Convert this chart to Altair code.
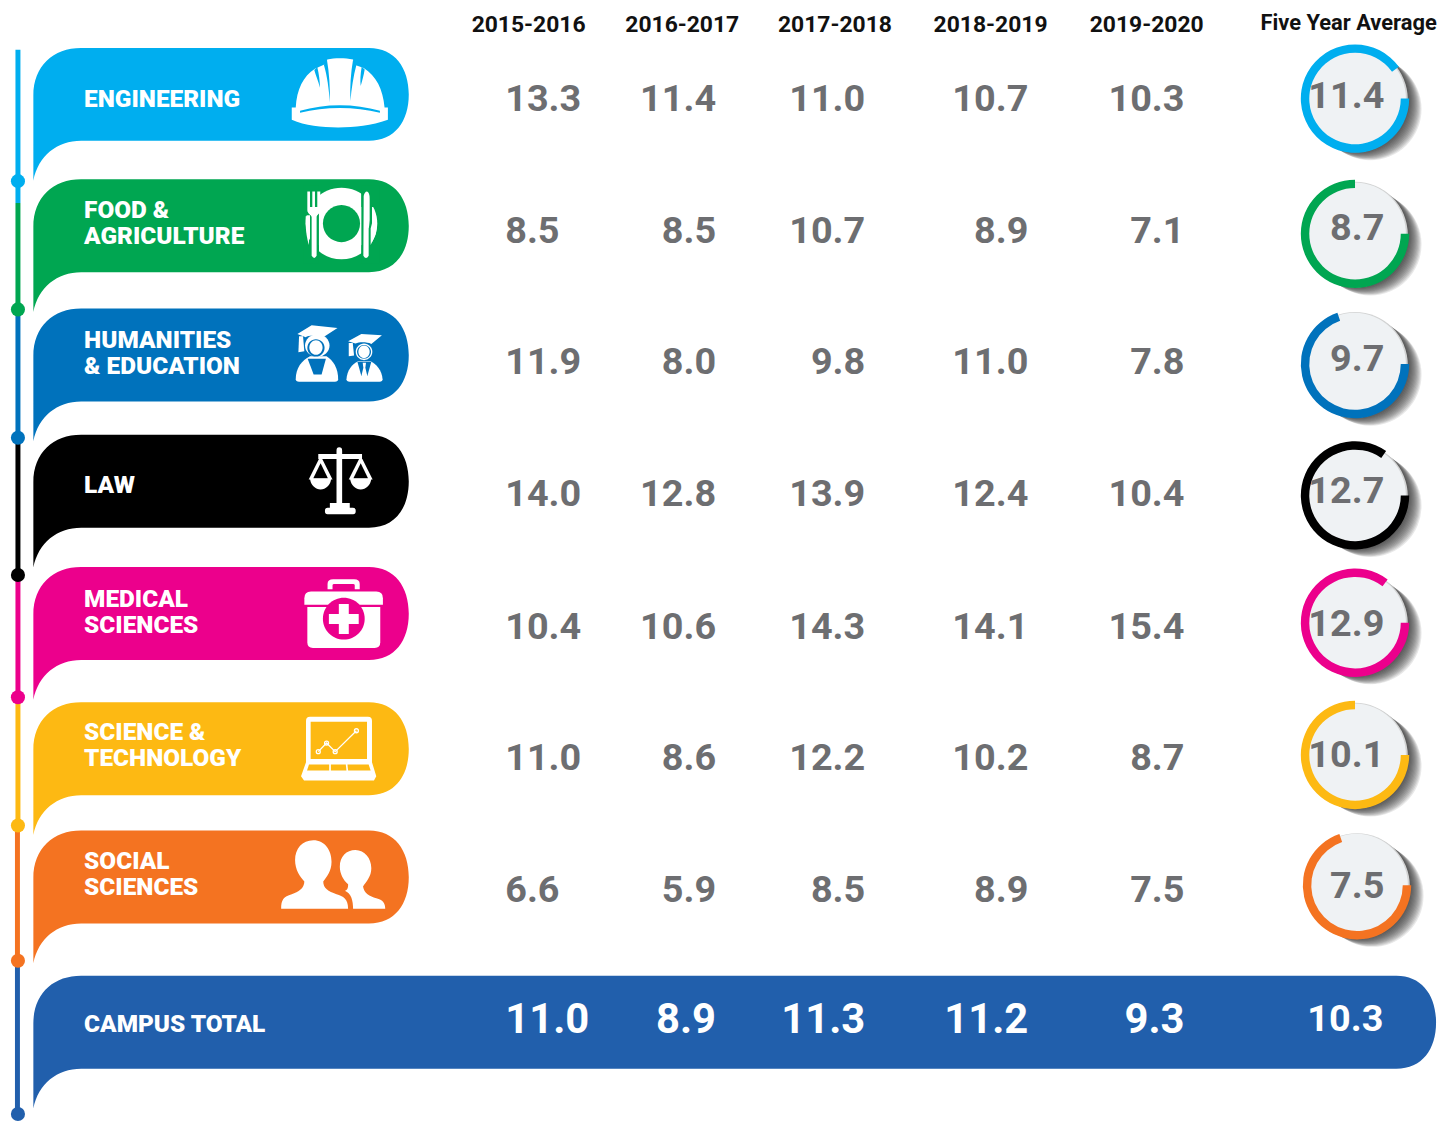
import math
import altair as alt
import pandas as pd

alt.data_transformers.disable_max_rows()

# ---------- data ----------
years = ["2015-2016", "2016-2017", "2017-2018", "2018-2019", "2019-2020"]
avg_header = "Five Year Average"
categories = ["Engineering", "Food", "Humanities", "Law", "Medical", "Science", "Social"]
labels = [["ENGINEERING"], ["FOOD &", "AGRICULTURE"], ["HUMANITIES", "& EDUCATION"], ["LAW"],
          ["MEDICAL", "SCIENCES"], ["SCIENCE &", "TECHNOLOGY"], ["SOCIAL", "SCIENCES"]]
series = {
    "Engineering": [13.3, 11.4, 11.0, 10.7, 10.3],
    "Food": [8.5, 8.5, 10.7, 8.9, 7.1],
    "Humanities": [11.9, 8.0, 9.8, 11.0, 7.8],
    "Law": [14.0, 12.8, 13.9, 12.4, 10.4],
    "Medical": [10.4, 10.6, 14.3, 14.1, 15.4],
    "Science": [11.0, 8.6, 12.2, 10.2, 8.7],
    "Social": [6.6, 5.9, 8.5, 8.9, 7.5],
}
averages = [11.4, 8.7, 9.7, 12.7, 12.9, 10.1, 7.5]
campus_label = "CAMPUS TOTAL"
campus = [11.0, 8.9, 11.3, 11.2, 9.3]
campus_avg = 10.3
arc_end_deg = [54, 0, -19, 35, 37, 0, -19]

# ---------- style / layout ----------
colors = ["#00aeef", "#00a651", "#0072bc", "#000000", "#ec008c", "#fdb913", "#f47321"]
campus_color = "#215fac"
GREY = "#6d6e71"
banner_top = [45, 177, 307, 434, 567, 703, 832]
campus_top = 978
baseline = [108, 241, 373, 506, 639, 771, 904]
label_base = [[104], [216, 242], [347, 373], [493], [607, 633], [741, 767], [871, 897]]
col_right = [None, 720, 870, 1034, 1191]
col1_left = 508
head_x = [531.5, 686, 839.5, 996, 1153]
disc_c = [(1362, 96), (1362, 232), (1362, 363), (1362, 495), (1362, 623), (1362, 756), (1364, 887)]
avg_base = [105, 238, 370, 503, 636, 768, 900]
dots = [179, 308, 437, 575, 698, 827, 963, 1117]
seg_y = [47, 201, 308, 437, 575, 698, 827, 963, 1117]
FONT = "Roboto"


def banner(w, h=93.5, tail=40):
    return (f"M0,48 C0,18 20,0 48,0 L{w-40},0 C{w-14},0 {w},20 {w},47 "
            f"C{w},74 {w-14},{h} {w-40},{h} L48,{h} C24,{h} 5,{h+15} 0,{h+tail} Z")


def circ(cx, cy, rx, ry=None):
    ry = rx if ry is None else ry
    return (f"M{cx-rx},{cy} A{rx},{ry} 0 1 1 {cx+rx},{cy} A{rx},{ry} 0 1 1 {cx-rx},{cy} Z")


def rect(x0, y0, x1, y1):
    return f"M{x0},{y0} L{x1},{y0} L{x1},{y1} L{x0},{y1} Z"


glyphs = []


def g(x, y, path, color, size=4 / 9):
    glyphs.append(dict(x=x, y=y, path=path, color=color, size=size))


# banners
for top, c in zip(banner_top, colors):
    g(33.5, top, banner(377.5), c, 4)
g(33.5, campus_top, banner(1410.5), campus_color, 4)

W = "#ffffff"
# helmet
a = (0, 30)
c = colors[0]
g(*a, "M892,225 C895,170 915,130 950,108 L985,92 L987,80 C1010,75 1040,75 1065,80 L1067,95 L1097,106 "
      "C1135,130 1155,170 1160,225 L1170,225 L1170,262 C1120,280 1070,285 1020,285 C970,285 920,280 880,262 L880,225 Z", W)
g(*a, "M948,112 L957,103 C962,125 965,145 965,165 C960,145 952,128 948,112 Z", c)
g(*a, "M977,97 L986,80 C993,120 996,165 995,210 C992,170 987,130 977,97 Z", c)
g(*a, "M1075,97 L1065,80 C1058,120 1055,165 1057,205 C1060,170 1066,130 1075,97 Z", c)
g(*a, "M1100,110 L1091,102 C1087,125 1086,145 1088,160 C1092,145 1097,128 1100,110 Z", c)
g(*a, "M905,235 C980,212 1070,212 1146,235 L1146,241 C1070,222 980,222 905,241 Z", c)

# plate and cutlery
c = colors[1]
g(*a, circ(1030, 575, 108), W)
g(*a, circ(1030, 575, 56), c)
g(*a, rect(935, 460, 962, 695), c)
g(*a, rect(915, 460, 962, 550), c)
g(*a, rect(915, 640, 962, 695), c)
g(*a, rect(1090, 460, 1122, 695), c)
g(*a, rect(1090, 460, 1145, 525), c)
g(*a, rect(1090, 640, 1145, 695), c)
g(*a, "M927,478 L935,478 L935,525 L942,525 L942,478 L950,478 L950,525 L957,525 L957,478 L966,478 "
      "L966,535 C966,545 956,548 955,555 L955,672 Q948,685 940,672 L940,555 C938,548 927,545 927,535 Z", W)
g(*a, "M1097,492 Q1100,478 1107,478 Q1115,480 1115,500 L1115,565 Q1113,590 1112,590 L1112,672 Q1104,686 1096,672 Z", W)
g(*a, "M922,553 L932,553 L932,640 C925,620 921,590 922,553 Z", W)
g(*a, "M1124,525 C1135,550 1140,590 1132,610 L1118,640 L1118,590 C1124,570 1128,550 1124,525 Z", W)

# graduates
a = (280, 310)
c = colors[2]
g(*a, "M52,205 C52,170 70,148 95,135 L145,135 C165,148 180,170 180,205 Q180,212 170,212 L62,212 Q52,212 52,205 Z", W)
g(*a, "M88,143 L143,143 L130,190 L106,190 Z", c)
g(*a, circ(117, 103, 37, 34), W)
g(*a, circ(113, 110, 26), c)
g(*a, circ(113, 109, 20, 22), W)
g(*a, "M57,68 L100,42 L178,50 L135,78 C115,72 90,72 82,78 Z", W)
g(*a, "M62,75 L74,75 L78,120 L60,123 Z", W)
g(*a, "M205,205 C207,175 222,160 240,150 L278,150 C295,160 312,175 314,205 Q314,212 305,212 L215,212 Q205,212 205,205 Z", W)
g(*a, "M238,152 L280,152 L268,195 L250,195 Z", c)
g(*a, "M254,155 L264,155 L262,170 L268,195 L259,207 L250,195 L256,170 Z", W)
g(*a, circ(258, 122, 25), W)
g(*a, circ(258, 122, 21), c)
g(*a, circ(258, 122, 17, 19), W)
g(*a, "M210,90 L250,68 L312,72 L280,98 C265,92 245,92 232,97 Z", W)
g(*a, "M212,95 L224,95 L228,133 L212,135 Z", W)

# scales
c = colors[3]
g(*a, "M175,420 Q175,410 183,410 Q192,410 192,420 L192,578 L215,578 L215,592 L225,592 Q233,592 233,602 Q233,612 225,612 "
      "L148,612 Q140,612 140,602 Q140,592 148,592 L155,592 L155,578 L175,578 Z", W)
g(*a, rect(120, 430, 252, 445), W)
for cx in (127, 248):
    g(*a, f"M{cx-5},445 L{cx+5},445 L{cx+36},507 L{cx-36},507 Z", W)
    g(*a, f"M{cx},458 L{cx+22},503 L{cx-22},503 Z", c)
    g(*a, f"M{cx-32},505 L{cx+32},505 C{cx+30},525 {cx+15},537 {cx},537 C{cx-15},537 {cx-30},525 {cx-32},505 Z", W)

# medical kit
a = (280, 570)
c = colors[4]
g(*a, "M148,58 L148,42 Q148,28 165,28 L228,28 Q245,28 245,42 L245,58 L230,58 L230,46 Q230,42 225,42 "
      "L168,42 Q163,42 163,46 L163,58 Z", W)
g(*a, "M78,105 L78,85 Q78,65 98,65 L295,65 Q315,65 315,85 L315,105 Z", W)
g(*a, "M87,112 L307,112 L307,218 Q307,235 290,235 L104,235 Q87,235 87,218 Z", W)
g(*a, circ(197, 147, 63), c)
g(*a, "M182,103 L212,103 L212,133 L242,133 L242,163 L212,163 L212,193 L182,193 L182,163 L152,163 L152,133 L182,133 Z", W)

# laptop
c = colors[5]
g(*a, "M83,455 Q83,443 95,443 L270,443 Q282,443 282,455 L282,580 L295,622 L288,635 L77,635 L68,622 L83,580 Z", W)
g(*a, rect(97, 458, 267, 570), c)
g(*a, "M92,587 L153,587 L153,605 L86,605 Z", c)
g(*a, "M158,587 L203,587 L205,605 L158,605 Z", c)
g(*a, "M208,587 L272,587 L278,605 L210,605 Z", c)

# people
c = colors[6]
g(*a, "M105,815 C140,815 160,845 160,880 C160,910 145,925 135,940 C135,960 150,970 175,978 C195,985 210,990 210,1022 "
      "L8,1022 C8,995 15,985 40,978 C60,972 78,960 78,940 C65,925 50,905 50,875 C50,840 72,815 105,815 Z", W)
g(*a, "M232,845 C260,845 280,870 280,900 C280,925 265,940 255,955 C258,975 275,985 295,990 C315,995 322,1005 322,1022 "
      "L225,1022 C225,1000 220,975 200,968 C210,965 210,955 210,948 C195,935 185,915 185,895 C185,865 205,845 232,845 Z", W)

# laptop chart line, drawn as outline
lines = [
    dict(x=a[0], y=a[1], path="M120,548 L145,522 L171,548 L235,485", size=4 / 9),
]
rings = [dict(x=a[0], y=a[1], path=circ(px, py, 6), size=4 / 9)
         for px, py in [(120, 548), (145, 522), (171, 548), (235, 485)]]

# ---------- tables ----------
X = alt.X("x:Q", scale=alt.Scale(domain=[8, 1456], nice=False, zero=False), axis=None)
Y = alt.Y("y:Q", scale=alt.Scale(domain=[1123, 8], nice=False, zero=False), axis=None)
COL = alt.Color("color:N", scale=None, legend=None)

glyph_layer = alt.Chart(pd.DataFrame(glyphs)).mark_point(filled=True, opacity=1, strokeWidth=0).encode(
    x=X, y=Y, shape=alt.Shape("path:N", scale=None, legend=None),
    size=alt.Size("size:Q", scale=None, legend=None), fill=alt.Fill("color:N", scale=None, legend=None))
line_layer = alt.Chart(pd.DataFrame(lines + rings)).mark_point(filled=False, opacity=1, strokeWidth=1.3, color=W).encode(
    x=X, y=Y, shape=alt.Shape("path:N", scale=None, legend=None), size=alt.Size("size:Q", scale=None, legend=None))

# timeline
seg_colors = colors + [campus_color]
seg_df = pd.DataFrame([dict(x=18 if i != 6 and i != 7 else 17.5, y=seg_y[i], y2=seg_y[i + 1], color=seg_colors[i]) for i in range(8)])
rule_layer = alt.Chart(seg_df).mark_rule(strokeWidth=5).encode(x=X, y=Y, y2="y2:Q", color=COL)
dot_df = pd.DataFrame([dict(x=18, y=dots[i], color=seg_colors[i], size=math.pi * 8 ** 2) for i in range(8)])
dot_layer = alt.Chart(dot_df).mark_circle(opacity=1).encode(
    x=X, y=Y, color=COL, size=alt.Size("size:Q", scale=None, legend=None))

# discs
shadow_rows = []
for (cx, cy) in disc_c:
    for k in range(1, 15):
        t = k / 14
        shadow_rows.append(dict(x=cx + 16 * t, y=cy + 10.5 * t, size=math.pi * (59 - 1 * t) ** 2, k=k))
shadow_layer = alt.Chart(pd.DataFrame(shadow_rows)).mark_circle(opacity=0.11, color="#2f2a2a").encode(
    x=X, y=Y, size=alt.Size("size:Q", scale=None, legend=None), order="k:Q")
rim_df = pd.DataFrame([dict(x=cx + 0.4, y=cy + 0.8, size=math.pi * 60 ** 2) for cx, cy in disc_c])
rim_layer = alt.Chart(rim_df).mark_circle(opacity=1, color="#d2d3d3").encode(
    x=X, y=Y, size=alt.Size("size:Q", scale=None, legend=None))
disc_df = pd.DataFrame([dict(x=cx, y=cy, size=math.pi * 58.3 ** 2) for cx, cy in disc_c])
disc_layer = alt.Chart(disc_df).mark_circle(opacity=1, color="#eff2f4").encode(
    x=X, y=Y, size=alt.Size("size:Q", scale=None, legend=None))
arc_df = pd.DataFrame([dict(x=cx + 0.5, y=cy, t1=math.pi / 2, t2=2 * math.pi + math.radians(e), color=c)
                       for (cx, cy), e, c in zip(disc_c, arc_end_deg, colors)])
arc_layer = alt.Chart(arc_df).mark_arc(radius=54.5, radius2=46).encode(
    x=X, y=Y, theta=alt.Theta("t1:Q", scale=None), theta2="t2:Q", color=COL)

# texts
head_df = pd.DataFrame([dict(x=x, y=29.5, t=t) for x, t in zip(head_x, years)])
head_layer = alt.Chart(head_df).mark_text(font=FONT, fontWeight="bold", fontSize=23, color="#111111", align="center",
                                          baseline="alphabetic").encode(x=X, y=Y, text="t:N")
avgh_layer = alt.Chart(pd.DataFrame([dict(x=1356, y=27, t=avg_header)])).mark_text(
    font=FONT, fontWeight="bold", fontSize=22, color="#111111", align="center", baseline="alphabetic"
).encode(x=X, y=Y, text="t:N")

lab_rows = []
for lines_, ys in zip(labels, label_base):
    for t, y in zip(lines_, ys):
        lab_rows.append(dict(x=84.5, y=y, t=t))
lab_rows.append(dict(x=84.5, y=1035, t=campus_label))
lab_layer = alt.Chart(pd.DataFrame(lab_rows)).mark_text(
    font=FONT, fontWeight=900, fontSize=24.5, color=W, align="left", baseline="alphabetic"
).encode(x=X, y=Y, text="t:N")

left_rows, right_rows = [], []
for i, cat in enumerate(categories):
    for j, v in enumerate(series[cat]):
        if j == 0:
            left_rows.append(dict(x=col1_left, y=baseline[i], v=v))
        else:
            right_rows.append(dict(x=col_right[j], y=baseline[i], v=v))
    right_rows.append(dict(x=1392, y=avg_base[i], v=averages[i]))

TXT = alt.Text("v:Q", format=".1f")
common = dict(font=FONT, fontWeight="bold", baseline="alphabetic")
val_left = alt.Chart(pd.DataFrame(left_rows)).mark_text(
    align="left", fontSize=38, color=GREY, **common).encode(x=X, y=Y, text=TXT)
val_right = alt.Chart(pd.DataFrame(right_rows)).mark_text(
    align="right", fontSize=38, color=GREY, **common).encode(x=X, y=Y, text=TXT)
tot_left = alt.Chart(pd.DataFrame([dict(x=col1_left, y=1036, v=campus[0])])).mark_text(
    align="left", fontSize=42, color=W, **common).encode(x=X, y=Y, text=TXT)
tot_right = alt.Chart(pd.DataFrame([dict(x=col_right[j], y=1036, v=campus[j]) for j in range(1, 5)])).mark_text(
    align="right", fontSize=42, color=W, **common).encode(x=X, y=Y, text=TXT)
tot_avg = alt.Chart(pd.DataFrame([dict(x=1391, y=1034, v=campus_avg)])).mark_text(
    align="right", fontSize=38, color=W, **common).encode(x=X, y=Y, text=TXT)

chart = alt.layer(
    rule_layer, dot_layer, glyph_layer, line_layer, shadow_layer, rim_layer, disc_layer, arc_layer,
    head_layer, avgh_layer, lab_layer, val_left, val_right, tot_left, tot_right, tot_avg,
).properties(
    width=1448, height=1115, background="#ffffff", padding=0, autosize=alt.AutoSizeParams(type="none")
).configure_view(stroke=None)

chart.save("out.html", embed_options={"renderer": "svg", "actions": False})
